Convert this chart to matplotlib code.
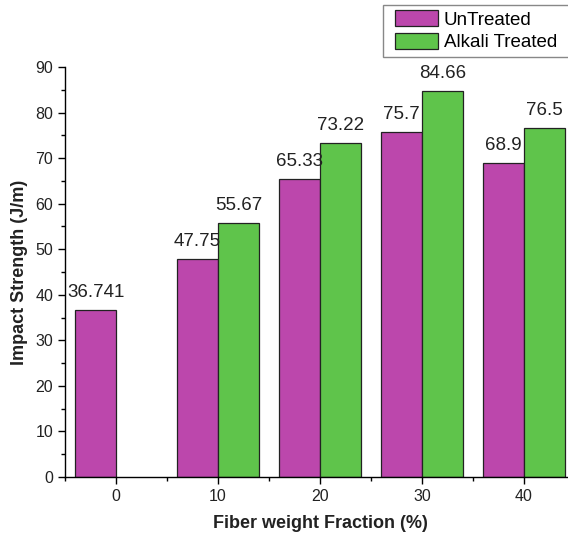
import numpy as np
import matplotlib.pyplot as plt
from matplotlib.ticker import MultipleLocator
from matplotlib.patches import Rectangle

plt.rcParams['font.family'] = ['Liberation Sans', 'DejaVu Sans']

# data
fractions = [0, 10, 20, 30, 40]
untreated = [36.741, 47.75, 65.33, 75.7, 68.9]
treated = [np.nan, 55.67, 73.22, 84.66, 76.5]
untreated_lbl = ['36.741', '47.75', '65.33', '75.7', '68.9']
treated_lbl = ['', '55.67', '73.22', '84.66', '76.5']

magenta = '#BC47AC'
green = '#5FC44B'

fig = plt.figure(figsize=(5.68, 5.39), dpi=100)
ax = fig.add_axes([65 / 568, 62 / 539, 510 / 568, 410 / 539])

x = np.array(fractions, dtype=float)
w = 4
ax.bar(x - w / 2, untreated, w, color=magenta, edgecolor='#222222', linewidth=0.9, label='UnTreated')
ax.bar(x + w / 2, treated, w, color=green, edgecolor='#222222', linewidth=0.9, label='Alkali Treated')

for xi, v, t in zip(x, untreated, untreated_lbl):
    ax.text(xi - w / 2, v + 2.0, t, ha='center', va='bottom', fontsize=13.5, color='#222222')
for xi, v, t in zip(x, treated, treated_lbl):
    if t:
        ax.text(xi + w / 2, v + 2.0, t, ha='center', va='bottom', fontsize=13.5, color='#222222')

ax.set_xlim(-5, 45)
ax.set_ylim(0, 90)
ax.set_xticks(fractions)
ax.xaxis.set_minor_locator(MultipleLocator(5))
ax.yaxis.set_major_locator(MultipleLocator(10))
ax.yaxis.set_minor_locator(MultipleLocator(5))
ax.tick_params(which='major', length=5, width=1, labelsize=11.5, labelcolor='#222222')
ax.tick_params(which='minor', length=3, width=1)
for s in ['top', 'right']:
    ax.spines[s].set_visible(False)
for s in ['left', 'bottom']:
    ax.spines[s].set_linewidth(1)

ax.set_xlabel('Fiber weight Fraction (%)', fontsize=13, fontweight='bold', color='#222222')
ax.set_ylabel('Impact Strength (J/m)', fontsize=13, fontweight='bold', color='#222222')
ax.xaxis.set_label_coords(0.5, -0.092)
ax.yaxis.set_label_coords(-0.072, 0.5)

# legend box runs past the right edge in the original
fig.patches.append(Rectangle((383 / 568, 1 - 57 / 539), 200 / 568, 52 / 539,
                             transform=fig.transFigure, facecolor='white',
                             edgecolor='#888888', linewidth=1))
fig.legend(loc='upper left', bbox_to_anchor=(395 / 568, 1 - 10 / 539), fontsize=13.5,
           frameon=False, handlelength=2.3, handleheight=0.95, handletextpad=0.3,
           labelspacing=0.22, borderpad=0, borderaxespad=0)

fig.savefig('out.png', dpi=100)
